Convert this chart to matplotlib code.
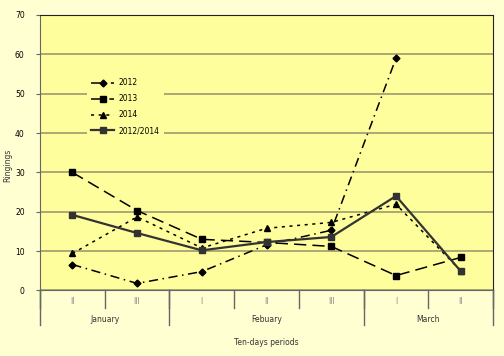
import matplotlib
matplotlib.use("Agg")
import matplotlib.pyplot as plt
import matplotlib.transforms as mtransforms
import numpy as np

periods = ["II", "III", "I", "II", "III", "I", "II"]
months = ["January", "Febuary", "March"]
month_spans = [(0, 1), (2, 4), (5, 6)]
s2012 = [6.6, 1.8, 4.8, 11.6, 15.3, 59.0, np.nan]
s2013 = [30.0, 20.3, 13.0, 12.2, 11.2, 3.8, 8.4]
s2014 = [9.4, 18.7, 10.8, 15.8, 17.3, 21.9, 5.0]
s_avg = [19.2, 14.6, 10.2, 12.3, 13.6, 24.0, 4.9]

PLOT_BG = "#FFFE9C"
fig = plt.figure(figsize=(5.04, 3.56), dpi=100)
fig.patch.set_facecolor("#FFFFD2")
ax = fig.add_axes([0.0794, 0.184, 0.899, 0.774])
ax.set_facecolor(PLOT_BG)

x = np.arange(len(periods))
ax.plot(x, s2012, color="black", lw=1.1, ls=(0, (6, 3, 1, 3)), marker="D", ms=3.5, label="2012")
ax.plot(x, s2013, color="black", lw=1.1, ls=(0, (8, 4)), marker="s", ms=5, label="2013")
ax.plot(x, s2014, color="black", lw=1.1, ls=(0, (2, 3)), marker="^", ms=4.5, label="2014")
ax.plot(x, s_avg, color="#333333", lw=1.6, ls="-", marker="s", ms=5, label="2012/2014")

ax.set_xlim(-0.5, len(periods) - 0.5)
ax.set_ylim(0, 70)
ax.set_yticks(range(0, 71, 10))
ax.yaxis.grid(True, color="#9E9A6E", lw=1.2)
ax.set_axisbelow(True)
ax.tick_params(axis="y", labelsize=5.5, length=3, color="#666666", pad=8)
ax.set_xticks([])
for sp in ["left", "bottom"]:
    ax.spines[sp].set_color("#666666")
for sp in ["top", "right"]:
    ax.spines[sp].set_color("#222222")

trans = mtransforms.blended_transform_factory(ax.transData, ax.transAxes)
for i, p in enumerate(periods):
    ax.text(i, -0.04, p, transform=trans, ha="center", va="center", fontsize=5.5, color="#888888")
for b in np.arange(-0.5, len(periods), 1.0):
    ax.plot([b, b], [0, -0.062], transform=trans, color="#666666", lw=1, clip_on=False)
for (a, b), m in zip(month_spans, months):
    ax.text((a + b) / 2, -0.105, m, transform=trans, ha="center", va="center", fontsize=5.5, color="#333333")
for b in [-0.5, 1.5, 4.5, 6.5]:
    ax.plot([b, b], [0, -0.124], transform=trans, color="#666666", lw=1, clip_on=False)

ax.text(0.5, -0.188, "Ten-days periods", transform=ax.transAxes, ha="center", va="center", fontsize=5.5, color="#333333")
fig.text(0.016, 0.535, "Ringings", rotation=90, ha="center", va="center", fontsize=5.5, color="#333333")

leg = ax.legend(loc="upper left", bbox_to_anchor=(0.095, 0.80), fontsize=5.5, frameon=True,
                handlelength=3.0, handletextpad=0.5, labelspacing=0.9, borderpad=0.6)
leg.get_frame().set_facecolor(PLOT_BG)
leg.get_frame().set_edgecolor("none")
leg.get_frame().set_alpha(1)

fig.savefig("out.png", dpi=100, facecolor=fig.get_facecolor())
